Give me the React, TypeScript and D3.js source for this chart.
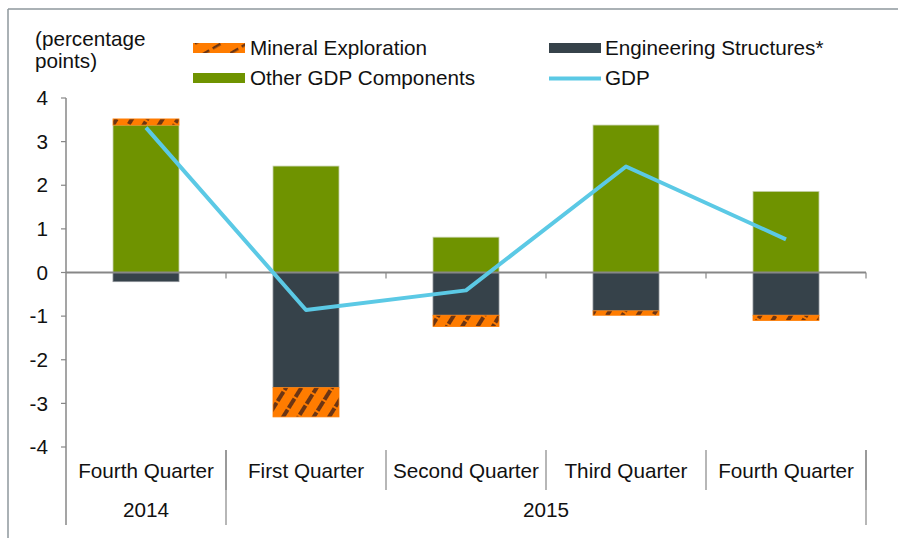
import React from "react";
import * as d3 from "d3";

const categories = ["Fourth Quarter", "First Quarter", "Second Quarter", "Third Quarter", "Fourth Quarter"];
const yearLabels = ["2014", "2015"];
const yearSpans = [1, 4];
const mineral = [0.14, -0.67, -0.26, -0.1, -0.12];
const engineering = [-0.21, -2.64, -0.98, -0.88, -0.98];
const other = [3.38, 2.44, 0.81, 3.38, 1.86];
const gdp = [3.32, -0.86, -0.41, 2.43, 0.76];
const yTicks = [4, 3, 2, 1, 0, -1, -2, -3, -4];

const W = 898;
const H = 538;
const FONT = "'Liberation Sans', Arial, sans-serif";
const FS = 20.7;
const GREEN = "#6f9300";
const DARK = "#36424a";
const ORANGE = "#ff7c00";
const STRIPE = "#6b3514";
const BLUE = "#5bc9e5";
const AXIS = "#878787";

export default function App() {
  const x = d3.scaleBand<number>().domain(d3.range(categories.length)).range([66, 866]).padding(0);
  const y = d3.scaleLinear().domain([-4, 4]).range([447, 98]);
  const barW = x.bandwidth() * 0.4125;

  const rows = categories.map((c, i) => ({ i, other: other[i], engineering: engineering[i], mineral: mineral[i] }));
  const keys = ["other", "engineering", "mineral"];
  const stacked = d3.stack<any>().keys(keys).offset(d3.stackOffsetDiverging)(rows);
  const fills: Record<string, string> = { other: GREEN, engineering: DARK, mineral: "url(#hatch)" };
  const strokes: Record<string, string> = { other: "#c9d3b0", engineering: "#8c9196", mineral: ORANGE };

  const cx = (i: number) => (x(i) as number) + x.bandwidth() / 2;
  const line = d3.line<number>().x((d, i) => cx(i)).y((d) => y(d));

  let acc = 0;
  const yearBlocks = yearLabels.map((lab, k) => {
    const start = acc;
    acc += yearSpans[k];
    return { lab, x0: x(start) as number, x1: (x(acc - 1) as number) + x.bandwidth() };
  });

  return (
    <svg width={W} height={H} style={{ position: "absolute", left: 0, top: 0, background: "#fff" }} fontFamily={FONT}>
      <defs>
        <pattern id="hatch" patternUnits="userSpaceOnUse" width="13" height="13" patternTransform="rotate(32)">
          <rect width="13" height="13" fill={ORANGE} />
          <rect x="4" y="0" width="4" height="11" fill={STRIPE} />
        </pattern>
        <pattern id="hatchL" patternUnits="userSpaceOnUse" width="13" height="13" patternTransform="rotate(60)">
          <rect width="13" height="13" fill={ORANGE} />
          <rect x="4" y="0" width="2.5" height="9" fill={STRIPE} />
        </pattern>
      </defs>

      {/* frame */}
      <line x1={8} y1={9} x2={W} y2={9} stroke="#8e979c" strokeWidth={1.5} />
      <line x1={8} y1={9} x2={8} y2={H} stroke="#8e979c" strokeWidth={1.5} />

      {/* unit label */}
      <text x={35} y={46} fontSize={FS} fill="#111">(percentage</text>
      <text x={35} y={68} fontSize={FS} fill="#111">points)</text>

      {/* legend */}
      <rect x={193} y={43} width={52} height={10} fill="url(#hatchL)" />
      <text x={250} y={55} fontSize={FS} fill="#111">Mineral Exploration</text>
      <rect x={193} y={73} width={52} height={10} fill={GREEN} />
      <text x={250} y={85} fontSize={FS} fill="#111">Other GDP Components</text>
      <rect x={549} y={43} width={52} height={10} fill={DARK} />
      <text x={605} y={55} fontSize={FS} fill="#111">Engineering Structures*</text>
      <line x1={549} y1={78.5} x2={601} y2={78.5} stroke={BLUE} strokeWidth={4} />
      <text x={605} y={85} fontSize={FS} fill="#111">GDP</text>

      {/* bars */}
      {stacked.map((s) => (
        <g key={s.key}>
          {s.map((d, i) => {
            const y0 = y(Math.max(d[0], d[1]));
            const y1 = y(Math.min(d[0], d[1]));
            if (Math.abs(y1 - y0) < 0.01) return null;
            return (
              <rect key={i} x={cx(i) - barW / 2} y={y0} width={barW} height={y1 - y0}
                fill={fills[s.key]} stroke={strokes[s.key]} strokeWidth={0.8} />
            );
          })}
        </g>
      ))}

      {/* y axis */}
      <line x1={66} y1={y(4)} x2={66} y2={525} stroke={AXIS} strokeWidth={1.5} />
      {yTicks.map((t) => (
        <g key={t}>
          <line x1={61} x2={66} y1={y(t)} y2={y(t)} stroke={AXIS} strokeWidth={1.2} />
          <text x={48} y={y(t)} dy="0.35em" textAnchor="end" fontSize={FS} fill="#111">{t}</text>
        </g>
      ))}

      {/* zero line */}
      <line x1={66} x2={866} y1={y(0)} y2={y(0)} stroke={AXIS} strokeWidth={2} />
      {categories.map((c, i) => (
        <line key={i} x1={(x(i) as number) + x.bandwidth()} x2={(x(i) as number) + x.bandwidth()}
          y1={y(0)} y2={y(0) + 6} stroke={AXIS} strokeWidth={1.2} />
      ))}

      {/* GDP line */}
      <path d={line(gdp) || ""} fill="none" stroke={BLUE} strokeWidth={4} strokeLinejoin="round" />

      {/* category axis */}
      {categories.map((c, i) => (
        <g key={i}>
          <text x={cx(i)} y={471} dy="0.35em" textAnchor="middle" fontSize={FS} fill="#111">{c}</text>
          <line x1={(x(i) as number) + x.bandwidth()} x2={(x(i) as number) + x.bandwidth()}
            y1={450} y2={490} stroke={AXIS} strokeWidth={1.2} />
        </g>
      ))}
      {yearBlocks.map((b, k) => (
        <g key={k}>
          <text x={(b.x0 + b.x1) / 2} y={510} dy="0.35em" textAnchor="middle" fontSize={FS} fill="#111">{b.lab}</text>
          <line x1={b.x1} x2={b.x1} y1={450} y2={525} stroke={AXIS} strokeWidth={1.2} />
        </g>
      ))}
    </svg>
  );
}
